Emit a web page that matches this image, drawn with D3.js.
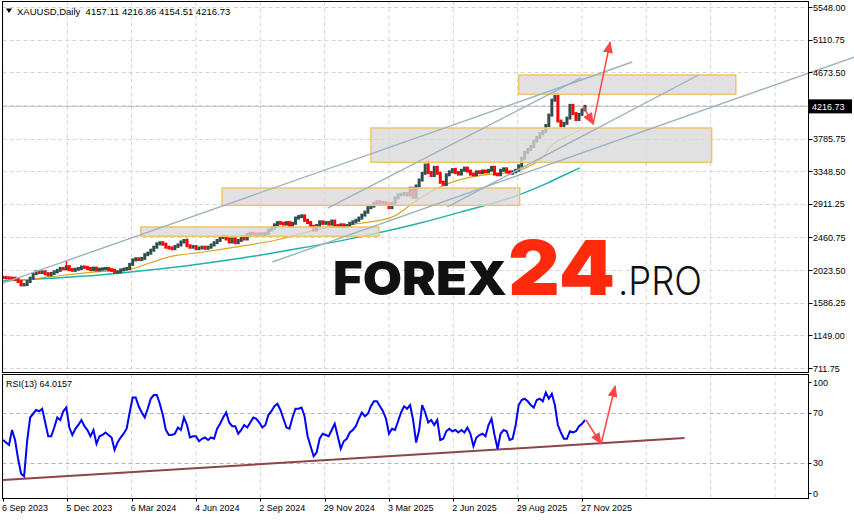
<!DOCTYPE html>
<html><head><meta charset="utf-8">
<script src="https://cdn.jsdelivr.net/npm/d3@7"></script>
<style>
body{margin:0;background:#fff;}
svg{display:block;}
text{font-family:"Liberation Sans",Arial,sans-serif;}
</style>
</head><body>
<svg id="c" width="854" height="520"></svg>
<script>
// ---------------- DATA ----------------
const symbolTitle = "XAUUSD,Daily";
const ohlcText = "4157.11 4216.86 4154.51 4216.73";
const lastPrice = 4216.73;
const rsiTitle = "RSI(13) 64.0157";
const stepDays = 3; // one sample every 3 trading days
// closes sampled every 3 trading days from 6 Sep 2023
const closes = [
1925,1920,1917,1915,1900,1870,1825,1830,1870,1915,
1975,2000,1990,2000,1975,1960,1980,2000,2020,2045,
2040,2070,2030,2020,2035,2045,2065,2060,2045,2030,
2050,2025,2035,2040,2045,2030,2020,1995,2000,2025,
2035,2045,2100,2160,2175,2165,2180,2230,2250,2290,
2330,2375,2390,2370,2330,2320,2310,2340,2360,2400,
2420,2350,2330,2340,2310,2320,2330,2315,2330,2360,
2390,2420,2460,2470,2440,2400,2440,2390,2420,2470,
2440,2500,2515,2505,2500,2510,2490,2515,2560,2585,
2630,2660,2650,2640,2660,2620,2650,2720,2740,2750,
2690,2660,2610,2560,2620,2670,2650,2660,2640,2680,
2620,2610,2630,2610,2620,2650,2670,2690,2720,2760,
2800,2860,2880,2920,2940,2920,2930,2910,2860,2920,
2990,3030,3040,3050,3030,3120,3000,3150,3230,3320,
3430,3330,3290,3400,3320,3200,3170,3300,3340,3370,
3330,3310,3360,3390,3350,3310,3300,3340,3330,3350,
3340,3360,3400,3310,3300,3360,3380,3340,3320,3340,
3360,3420,3520,3600,3640,3680,3750,3800,3850,3880,
3960,4100,4300,4370,4020,3960,3990,4060,4230,4120,
4040,4110,4170,4216.73];
const rsiValues = [
48,46,44,56,48,33,21,19,47,66,
69,72,71,73,62,51,51,58,66,64,
71,74,58,52,57,60,64,59,56,51,
56,45,51,52,54,52,50,40,46,50,
53,57,70,82,82,75,70,66,73,81,
84,84,77,68,56,52,52,53,58,56,
66,60,50,51,51,47,49,50,48,50,
49,57,61,66,70,62,59,59,53,56,
60,58,62,66,65,62,58,60,68,71,
75,77,72,65,58,57,66,73,73,74,
67,51,43,35,38,49,53,52,51,56,
61,51,41,47,49,54,56,59,65,70,
67,69,75,79,79,75,71,65,53,57,
56,63,70,75,73,76,64,46,56,76,
70,62,64,60,64,48,49,55,57,55,
56,54,56,54,58,53,43,50,52,53,
51,60,65,52,41,53,56,55,48,49,
60,76,80,81,79,76,74,80,81,79,
86,81,85,76,60,54,49,49,55,54,
55,59,61,64];
// notable intraday spikes: [trading day, high]
const spikeHighs = [[63,2146],[183,2450],[423,3500],[549,4381]];
// moving averages: [trading day, price]
const maFast = [[0,1915],[17,1890],[47,1935],[96,2002],[123,2025],[146,2118],[166,2203],[196,2259],
 [236,2340],[276,2440],[295,2507],[328,2605],[355,2648],[388,2739],[412,2962],[435,3140],
 [465,3270],[494,3320],[507,3330],[521,3400],[534,3498],[548,3720],[559,3800],[574,3893]];
const maSlow = [[0,1877],[47,1913],[96,1958],[146,2025],[196,2105],[236,2181],[295,2315],[350,2455],
 [415,2654],[455,2800],[514,3035],[541,3185],[559,3300],[574,3392]];
// axis
const priceTicks = [5548.00,5110.75,4673.50,4236.25,3785.75,3348.50,2911.25,2460.75,2023.50,1586.25,1149.00,711.75];
const dateLabels = ["6 Sep 2023","5 Dec 2023","6 Mar 2024","4 Jun 2024","2 Sep 2024","29 Nov 2024","3 Mar 2025","2 Jun 2025","29 Aug 2025","27 Nov 2025"];
const dateDays = [0,64,128,192,256,320,384,448,512,576];
const gridDays = [0,64,128,192,256,320,384,448,512,576,640,704,768];
const rsiLevels = [70,30];
// drawn objects (trading day, price)
const trendLines = [
 [[0,1850],[626,4811]],
 [[323,2855],[575,4597]],
 [[442,2869],[692,4637]],
 [[268,2132],[847,4878]]];
const zones = [
 [137,374,2601,2476],
 [218,514,3123,2891],
 [366,705,3927,3467],
 [513,729,4637,4378]];
const priceArrows = [[[577,4222],[587,3980]],[[587,3980],[604,5079]]];
const rsiTrend = [[0,16],[678,49.6]];
const rsiArrows = [[[580,64],[595,44.8]],[[595,44.8],[609,91.2]]];

// ---------------- CHART ----------------
const svg = d3.select("#c");
const PL=2.5, PR=808.5, PT=1.5, PB=372.5, RT=374.5, RB=498.5;
const x = d3.scaleLinear().domain([0,576]).range([3,582]);
const y = d3.scaleLinear().domain([711.75,5548]).range([368,7]);
const yr = d3.scaleLinear().domain([0,100]).range([500,375]);

const defs = svg.append("defs");
defs.append("clipPath").attr("id","cm").append("rect")
  .attr("x",PL).attr("y",PT).attr("width",PR-PL).attr("height",PB-PT);
defs.append("clipPath").attr("id","cr").append("rect")
  .attr("x",PL).attr("y",RT).attr("width",PR-PL).attr("height",RB-RT);
defs.append("marker").attr("id","ah").attr("viewBox","0 0 12 10")
  .attr("refX",11).attr("refY",5).attr("markerWidth",12).attr("markerHeight",10)
  .attr("markerUnits","userSpaceOnUse").attr("orient","auto")
  .append("path").attr("d","M0,0L12,5L0,10z").attr("fill","#ff4646");

svg.append("rect").attr("width",854).attr("height",520).attr("fill","#fff");

// grid main
const gm = svg.append("g").attr("clip-path","url(#cm)");
gm.selectAll(".vg").data(gridDays).join("line")
  .attr("x1",d=>x(d)).attr("x2",d=>x(d)).attr("y1",PT).attr("y2",PB)
  .attr("stroke","#d4d4d4").attr("stroke-dasharray","4,3").attr("stroke-width",1);
gm.selectAll(".hg").data(priceTicks).join("line")
  .attr("x1",PL).attr("x2",PR).attr("y1",d=>Math.round(y(d))+0.5).attr("y2",d=>Math.round(y(d))+0.5)
  .attr("stroke","#d4d4d4").attr("stroke-dasharray","4,3");
// bid line
gm.append("line").attr("x1",PL).attr("x2",PR)
  .attr("y1",Math.round(y(lastPrice))+0.5).attr("y2",Math.round(y(lastPrice))+0.5)
  .attr("stroke","#c8c8c8");

// MAs
const lineGen = d3.line().x(d=>x(d[0])).y(d=>y(d[1])).curve(d3.curveMonotoneX);
gm.append("path").datum(maSlow).attr("d",lineGen).attr("fill","none")
  .attr("stroke","#20b2aa").attr("stroke-width",1.5);
gm.append("path").datum(maFast).attr("d",lineGen).attr("fill","none")
  .attr("stroke","#daa520").attr("stroke-width",1.2);

// candles (open = previous close)
const bars = closes.map((c,i)=>({d:i*stepDays, o:i?closes[i-1]:c, c}));
gm.selectAll(".bar").data(bars).join("rect")
  .attr("x",b=>x(b.d)-1.5).attr("width",3)
  .attr("y",b=>Math.min(y(b.o),y(b.c))-1.5)
  .attr("height",b=>Math.abs(y(b.o)-y(b.c))+3)
  .attr("fill",b=>b.c>=b.o?"#2f4f4f":"#ff0000");
// wick spikes
gm.selectAll(".spk").data(spikeHighs).join("line")
  .attr("x1",s=>x(s[0])).attr("x2",s=>x(s[0]))
  .attr("y1",s=>y(s[1])).attr("y2",s=>y(closes[Math.round(s[0]/stepDays)]))
  .attr("stroke",s=>"#ff0000").attr("stroke-width",1.2);

// zones
gm.selectAll(".zone").data(zones).join("rect")
  .attr("x",z=>x(z[0])).attr("width",z=>x(z[1])-x(z[0]))
  .attr("y",z=>y(z[2])).attr("height",z=>y(z[3])-y(z[2]))
  .attr("fill","rgb(216,216,216)").attr("fill-opacity",0.78)
  .attr("stroke","#f2c46a").attr("stroke-width",1.5);

// trend lines (not clipped: one runs into the axis area)
svg.selectAll(".tl").data(trendLines).join("line")
  .attr("x1",l=>x(l[0][0])).attr("y1",l=>y(l[0][1]))
  .attr("x2",l=>x(l[1][0])).attr("y2",l=>y(l[1][1]))
  .attr("stroke","#9cb2bf").attr("stroke-width",1.4);

// arrows
svg.selectAll(".pa").data(priceArrows).join("line")
  .attr("x1",l=>x(l[0][0])).attr("y1",l=>y(l[0][1]))
  .attr("x2",l=>x(l[1][0])).attr("y2",l=>y(l[1][1]))
  .attr("stroke","#ff4646").attr("stroke-width",1.5).attr("marker-end","url(#ah)");

// logo
const logo = svg.append("g");
logo.append("text").attr("x",333).attr("y",295).text("FOREX")
  .style("font-family","Inter, Lato, sans-serif").style("font-weight",900).style("font-size","47px")
  .attr("textLength",174).attr("lengthAdjust","spacingAndGlyphs").attr("fill","#111");
logo.append("text").attr("x",508).attr("y",295).text("24")
  .style("font-family","Inter, Lato, sans-serif").style("font-weight",900).style("font-size","76px")
  .attr("textLength",107).attr("lengthAdjust","spacingAndGlyphs").attr("fill","#ff2a0c");
logo.append("text").attr("x",618).attr("y",295).text(".PRO")
  .style("font-family","Inter, Lato, sans-serif").style("font-weight",300).style("font-size","39px")
  .attr("textLength",84).attr("lengthAdjust","spacingAndGlyphs").attr("fill","#111");

// RSI panel
const gr = svg.append("g").attr("clip-path","url(#cr)");
gr.selectAll(".vg").data(gridDays).join("line")
  .attr("x1",d=>x(d)).attr("x2",d=>x(d)).attr("y1",RT).attr("y2",RB)
  .attr("stroke","#d4d4d4").attr("stroke-dasharray","4,3");
gr.selectAll(".lv").data(rsiLevels).join("line")
  .attr("x1",PL).attr("x2",PR).attr("y1",d=>Math.round(yr(d))+0.5).attr("y2",d=>Math.round(yr(d))+0.5)
  .attr("stroke","#b4b4b4").attr("stroke-dasharray","4,3");
gr.append("line").attr("x1",x(rsiTrend[0][0])).attr("y1",yr(rsiTrend[0][1]))
  .attr("x2",x(rsiTrend[1][0])).attr("y2",yr(rsiTrend[1][1]))
  .attr("stroke","#8e4545").attr("stroke-width",2);
gr.append("path").datum(rsiValues)
  .attr("d",d3.line().x((v,i)=>x(i*stepDays)).y(v=>yr(v)))
  .attr("fill","none").attr("stroke","#0000ff").attr("stroke-width",2);
svg.selectAll(".ra").data(rsiArrows).join("line")
  .attr("x1",l=>x(l[0][0])).attr("y1",l=>yr(l[0][1]))
  .attr("x2",l=>x(l[1][0])).attr("y2",l=>yr(l[1][1]))
  .attr("stroke","#ff4646").attr("stroke-width",1.5).attr("marker-end","url(#ah)");

// frames
svg.append("rect").attr("x",PL).attr("y",PT).attr("width",PR-PL).attr("height",PB-PT)
  .attr("fill","none").attr("stroke","#000");
svg.append("rect").attr("x",PL).attr("y",RT).attr("width",PR-PL).attr("height",RB-RT)
  .attr("fill","none").attr("stroke","#000");

// price axis
const fmt = d3.format(".2f");
const pa = svg.append("g");
pa.selectAll("line").data(priceTicks).join("line")
  .attr("x1",PR).attr("x2",PR+4).attr("y1",d=>Math.round(y(d))+0.5).attr("y2",d=>Math.round(y(d))+0.5)
  .attr("stroke","#000");
pa.selectAll("text").data(priceTicks).join("text")
  .attr("x",813).attr("y",d=>y(d)+3.5).text(d=>fmt(d))
  .style("font-size","9px").attr("fill","#000");
// last price label
pa.append("rect").attr("x",809).attr("y",y(lastPrice)-7).attr("width",43).attr("height",14).attr("fill","#000");
pa.append("text").attr("x",812).attr("y",y(lastPrice)+3.5).text(fmt(lastPrice))
  .style("font-size","9px").attr("fill","#fff");

// rsi axis
const rl = [[100,yr(100)+7],[70,yr(70)],[30,yr(30)],[0,yr(0)-7]];
svg.selectAll(".rt").data(rl).join("text")
  .attr("x",813).attr("y",d=>d[1]+3.5).text(d=>d[0]).style("font-size","9px");
svg.selectAll(".rtk").data(rl).join("line")
  .attr("x1",PR).attr("x2",PR+3).attr("y1",d=>Math.round(d[1])+0.5).attr("y2",d=>Math.round(d[1])+0.5)
  .attr("stroke","#000");

// date axis
svg.selectAll(".dl").data(dateDays).join("text")
  .attr("x",d=>x(d)-1).attr("y",511).text((d,i)=>dateLabels[i]).style("font-size","9px");
svg.selectAll(".dtk").data(dateDays).join("line")
  .attr("x1",d=>Math.round(x(d))+0.5).attr("x2",d=>Math.round(x(d))+0.5).attr("y1",RB).attr("y2",RB+3)
  .attr("stroke","#000");

// header
svg.append("path").attr("d","M6,8.5L12,8.5L9,13z").attr("fill","#000");
svg.append("text").attr("x",17).attr("y",14.5).attr("xml:space","preserve")
  .text(symbolTitle+"  "+ohlcText).style("font-size","9.5px");
svg.append("text").attr("x",6).attr("y",387).text(rsiTitle).style("font-size","9px");
</script>
</body></html>
